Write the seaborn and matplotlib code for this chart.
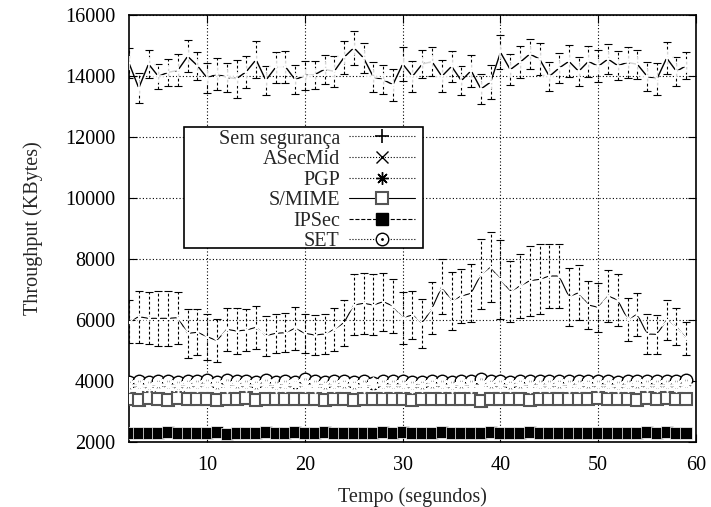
import matplotlib
matplotlib.use("Agg")
import matplotlib.pyplot as plt
import seaborn as sns
import pandas as pd
from matplotlib.lines import Line2D
from matplotlib.patches import Rectangle

tempo = list(range(2, 60))

sem_seg = [14426, 13606, 14394, 13990, 14120, 14186, 14645, 14339, 13934, 14066,
           13956, 13913, 14142, 14536, 13858, 14284, 14306, 13880, 14016, 14044,
           14219, 14153, 14612, 14929, 14590, 13967, 13880, 13716, 14393, 13989,
           14393, 14470, 13989, 14317, 13847, 14175, 13574, 13803, 14776, 14208,
           14448, 14721, 14557, 13989, 14262, 14481, 14153, 14481, 14317, 14557,
           14339, 14448, 14383, 13989, 13902, 14590, 14153, 14339]
sem_err = [480, 500, 470, 420, 450, 520, 520, 460, 500, 530,
           480, 620, 520, 600, 480, 500, 520, 470, 480, 460,
           480, 500, 540, 560, 480, 500, 470, 520, 560, 500,
           470, 480, 520, 500, 480, 520, 500, 560, 560, 500,
           520, 480, 520, 470, 500, 520, 480, 500, 520, 500,
           480, 500, 470, 480, 520, 520, 480, 450]

asecmid = [5945, 6109, 6055, 6055, 6055, 6077, 5563, 5596, 5453, 5322,
           5694, 5640, 5672, 5760, 5486, 5563, 5585, 5727, 5563, 5508,
           5541, 5694, 5913, 6492, 6547, 6492, 6601, 6459, 6077, 6164,
           5891, 6383, 7093, 6623, 6787, 6874, 7497, 7727, 7333, 6930,
           7115, 7289, 7333, 7443, 7443, 6765, 6896, 6492, 6415, 6787,
           6656, 6022, 6186, 5541, 5530, 6000, 5781, 5399]
asec_err = [700, 850, 850, 900, 900, 850, 800, 750, 750, 700,
            700, 750, 700, 700, 650, 650, 650, 700, 650, 650,
            650, 700, 750, 1000, 1000, 1000, 950, 900, 850, 800,
            800, 850, 900, 950, 900, 950, 1150, 1150, 1300, 1000,
            1050, 1150, 1150, 1050, 1050, 950, 900, 800, 800, 850,
            850, 700, 700, 650, 650, 650, 600, 550]

pgp = [3880, 3860, 3850, 3890, 3880, 3850, 3890, 3870, 3910, 3860,
       3820, 3890, 3870, 3860, 3900, 3850, 3880, 3890, 3860, 3850,
       3880, 3870, 3890, 3860, 3820, 3890, 3870, 3880, 3860, 3850,
       3880, 3900, 3870, 3840, 3890, 3850, 3880, 3890, 3860, 3870,
       3900, 3840, 3880, 3860, 3890, 3850, 3870, 3890, 3860, 3880,
       3850, 3870, 3890, 3860, 3880, 3870, 3860, 3890]
smime = [3405, 3385, 3455, 3415, 3365, 3455, 3395, 3415, 3425, 3375,
         3405, 3425, 3435, 3385, 3395, 3405, 3405, 3395, 3415, 3425,
         3375, 3405, 3425, 3385, 3395, 3405, 3425, 3395, 3415, 3385,
         3415, 3425, 3405, 3395, 3415, 3425, 3355, 3405, 3425, 3415,
         3425, 3365, 3415, 3425, 3405, 3415, 3395, 3425, 3435, 3395,
         3425, 3405, 3365, 3435, 3405, 3455, 3415, 3405]
ipsec = [2300, 2290, 2310, 2290, 2320, 2310, 2300, 2280, 2290, 2320,
         2270, 2290, 2300, 2300, 2320, 2280, 2300, 2320, 2280, 2300,
         2330, 2310, 2300, 2300, 2290, 2280, 2330, 2290, 2320, 2290,
         2280, 2300, 2320, 2290, 2280, 2300, 2310, 2330, 2280, 2290,
         2300, 2320, 2290, 2290, 2300, 2310, 2290, 2290, 2310, 2310,
         2280, 2300, 2310, 2330, 2300, 2340, 2300, 2300]
set_v = [3980, 4010, 3970, 4000, 4010, 3960, 4000, 4010, 4040, 3980,
         4030, 3990, 4000, 3960, 4020, 3980, 4010, 3980, 4050, 4000,
         3970, 3990, 4010, 3980, 4000, 3950, 3990, 4010, 4000, 3970,
         3980, 4010, 4000, 3970, 4010, 3990, 4060, 4000, 4010, 3980,
         4000, 4010, 3990, 4000, 4010, 4010, 3990, 4000, 4010, 4000,
         3980, 4000, 3990, 4010, 4000, 3990, 4010, 4020]

series = ["Sem segurança", "ASecMid", "PGP", "S/MIME", "IPSec", "SET"]

sns.set_theme(style="white")
plt.rcParams["font.family"] = ["Liberation Serif", "DejaVu Serif"]

fig = plt.figure(figsize=(7.11, 5.07), dpi=100)
ax = fig.add_axes([0.1814, 0.1282, 0.7975, 0.8422])

df = pd.DataFrame({"t": tempo, "sem": sem_seg, "asec": asecmid, "pgp": pgp,
                   "smime": smime, "ipsec": ipsec, "set": set_v})

dash = (0, (2.5, 2))
for col, err in [("sem", sem_err), ("asec", asec_err)]:
    eb = ax.errorbar(df["t"], df[col], yerr=err, fmt="none", ecolor="black",
                     elinewidth=0.8, capsize=3, capthick=0.8, zorder=2)
    for c in eb[2]:
        c.set_linestyle(dash)
for name in ["pgp", "smime", "ipsec", "set"]:
    ax.errorbar(df["t"], df[name], yerr=30, fmt="none", ecolor="black",
                elinewidth=0.6, capsize=2, capthick=0.6, zorder=2)

sns.lineplot(data=df, x="t", y="sem", ax=ax, color="black", lw=1.0,
             marker="+", markersize=10, markeredgewidth=1.2, zorder=3)
sns.lineplot(data=df, x="t", y="asec", ax=ax, color="black", lw=0.8,
             marker="x", markersize=9, markeredgewidth=1.0, zorder=3)
sns.lineplot(data=df, x="t", y="ipsec", ax=ax, color="black", lw=0.8,
             marker="s", markersize=9, markeredgewidth=0.5, zorder=3)
sns.lineplot(data=df, x="t", y="smime", ax=ax, color="black", lw=0.6,
             marker="s", markersize=8.5, markerfacecolor="white",
             markeredgecolor="#555555", markeredgewidth=1.5, zorder=3)
sns.lineplot(data=df, x="t", y="set", ax=ax, color="black", lw=0.6,
             marker="o", markersize=9, markerfacecolor="white",
             markeredgecolor="black", markeredgewidth=1.0, zorder=4)
sns.scatterplot(data=df, x="t", y="set", ax=ax, color="black", s=3,
                linewidth=0, zorder=4.5, legend=False)
sns.lineplot(data=df, x="t", y="pgp", ax=ax, color="black", lw=0.6,
             marker=(8, 2, 0), markersize=10, markeredgewidth=1.1, zorder=5)

ax.set_xlim(2, 60)
ax.set_ylim(2000, 16000)
ax.set_xticks([10, 20, 30, 40, 50, 60])
ax.set_yticks([2000, 4000, 6000, 8000, 10000, 12000, 14000, 16000])
ax.grid(True, linestyle=(0, (1, 2)), color="black", linewidth=0.8)
ax.tick_params(direction="in", length=6, width=0.8, top=True, right=True,
               bottom=True, left=True, labelsize=14.5, colors="black", pad=10)
for s in ax.spines.values():
    s.set_color("black")
    s.set_linewidth(1.2)
ax.set_xlabel("Tempo (segundos)", fontsize=14.5, labelpad=9)
ax.set_ylabel("Throughput (KBytes)", fontsize=14.5, labelpad=16)

set_handle = (Line2D([], [], color="black", ls=":", lw=0.8, marker="o", markersize=9,
                     markerfacecolor="white", markeredgecolor="black", markeredgewidth=1.0),
              Line2D([], [], color="black", ls="none", marker=".", markersize=2))
handles = [
    Line2D([], [], color="black", ls=":", lw=0.8, marker="+", markersize=10, markeredgewidth=1.2),
    Line2D([], [], color="black", ls=":", lw=0.8, marker="x", markersize=8, markeredgewidth=1.0),
    Line2D([], [], color="black", ls=":", lw=0.8, marker=(8, 2, 0), markersize=9, markeredgewidth=1.0),
    Line2D([], [], color="black", ls="-", lw=0.8, marker="s", markersize=8, markerfacecolor="white",
           markeredgecolor="#555555", markeredgewidth=1.5),
    Line2D([], [], color="black", ls="--", lw=0.8, marker="s", markersize=8),
    set_handle,
]
leg = ax.legend(handles, series, loc="upper left", bbox_to_anchor=(0.158, 0.732),
                markerfirst=False, fontsize=14.5, frameon=False,
                handlelength=3.3, handletextpad=0.45,
                labelspacing=0.07, borderpad=0, borderaxespad=0)
leg.set_zorder(11)
rect = Rectangle((0.097, 0.4543), 0.5185 - 0.097, 0.7377 - 0.4543,
                 transform=ax.transAxes, facecolor="white", edgecolor="black",
                 linewidth=1.2, zorder=10)
ax.add_patch(rect)

fig.savefig("out.png", dpi=100)
